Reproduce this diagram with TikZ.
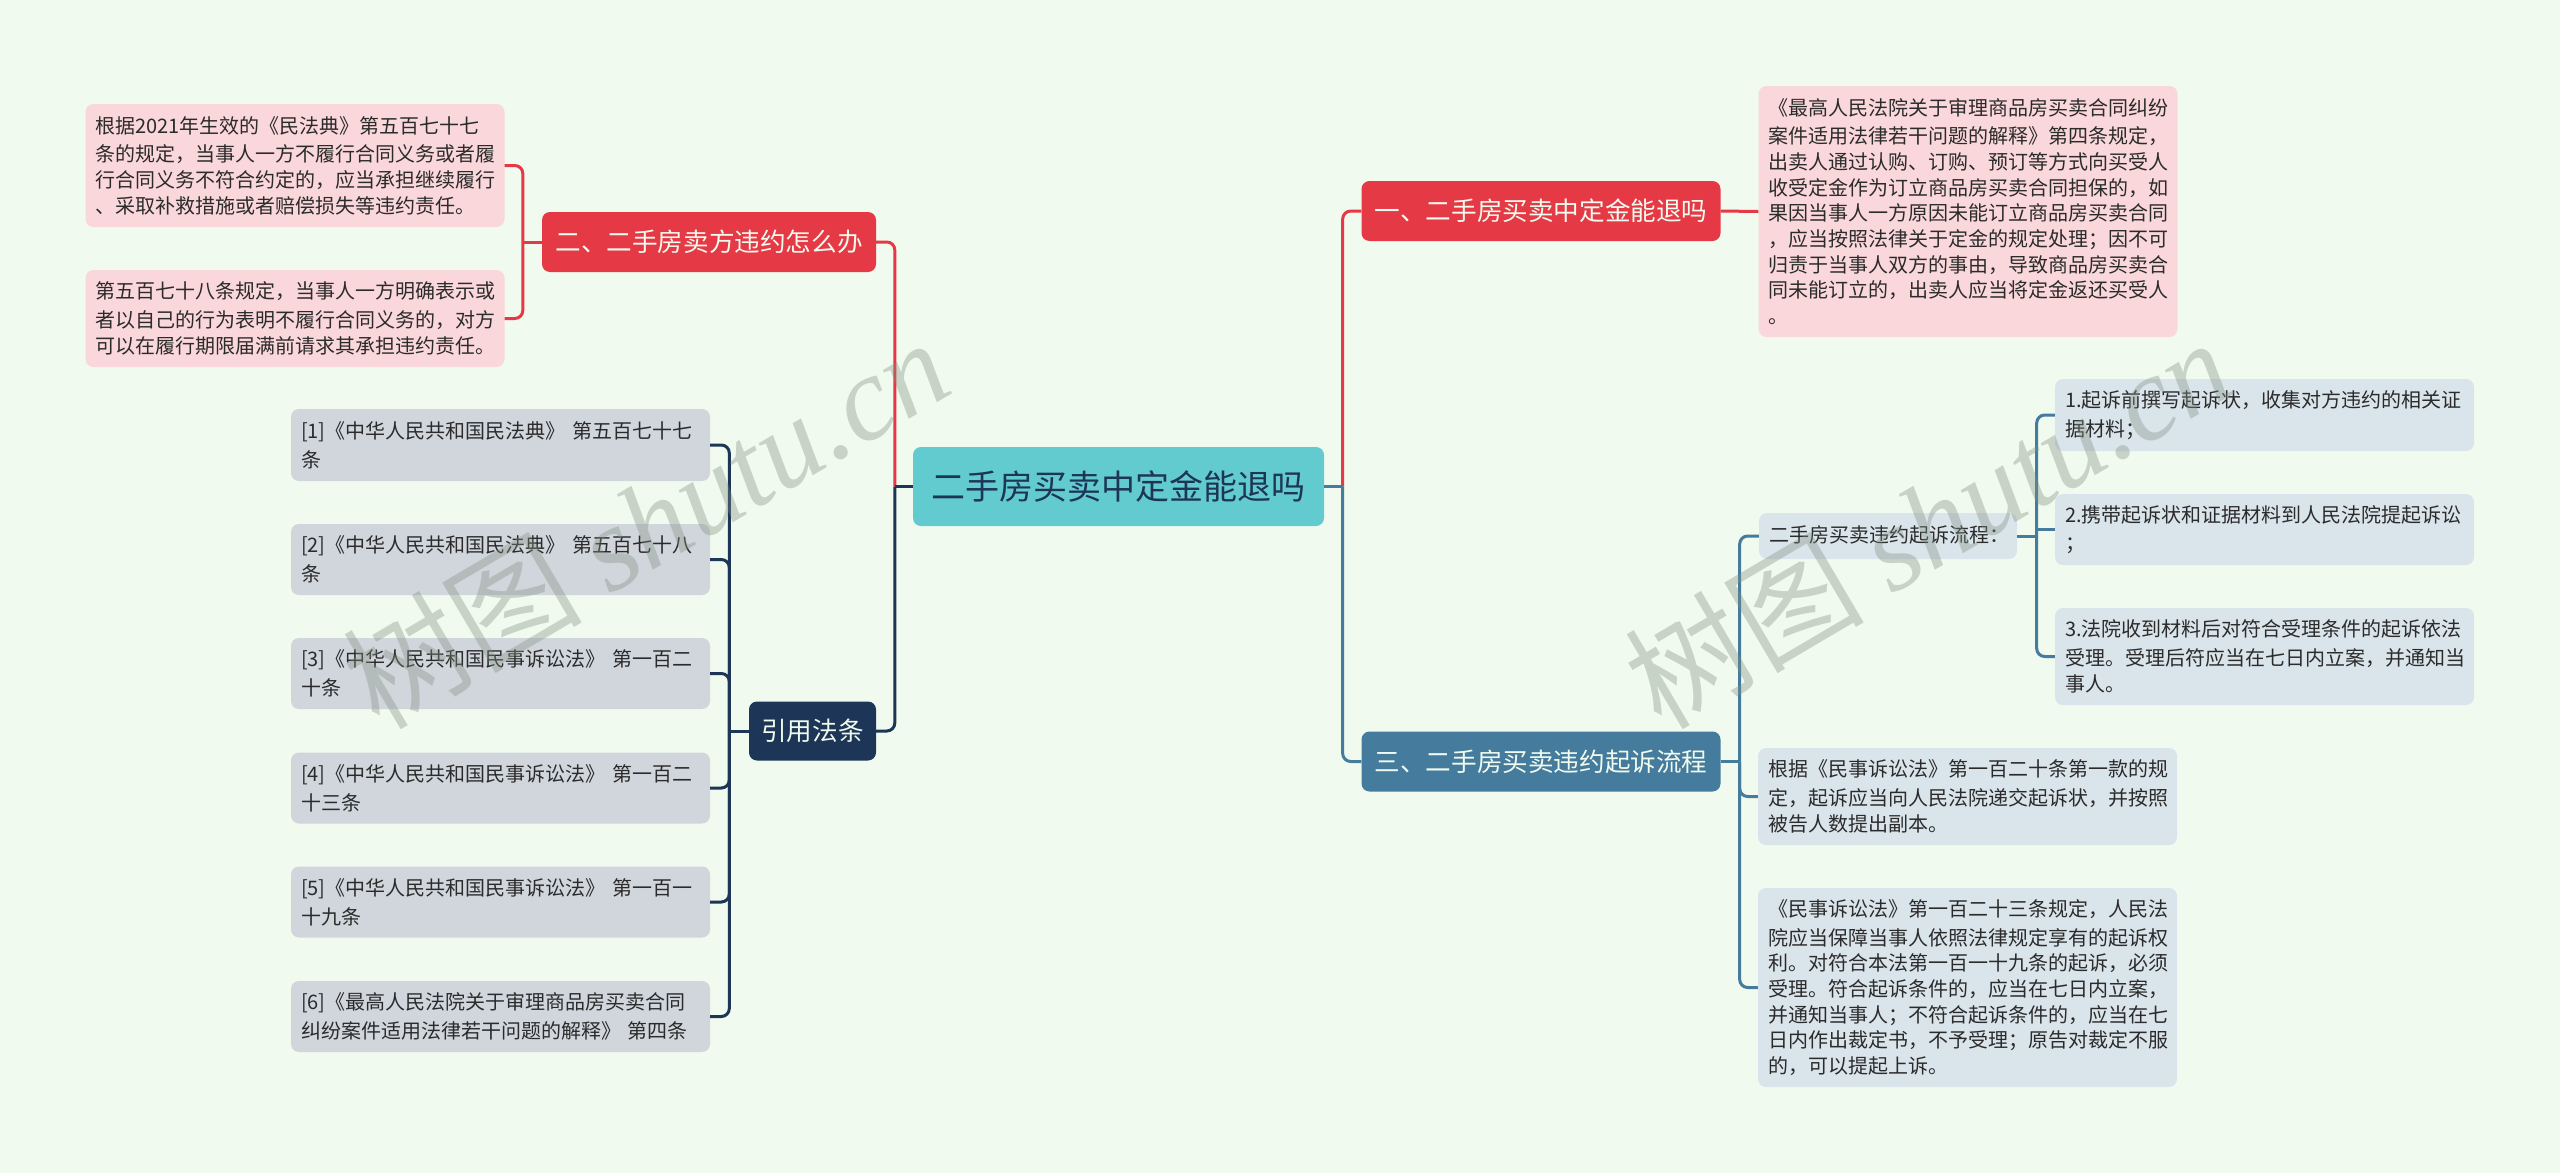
\documentclass[tikz,border=0pt]{standalone}
\usepackage{fontspec}
\setmainfont{Noto Sans CJK SC}
\newfontfamily\wmlatin{Liberation Serif}
\usepackage{tikz}
\usetikzlibrary{positioning, calc}

\definecolor{pagebg}{HTML}{F1FAEE}
\definecolor{rootfill}{HTML}{62CBD0}
\definecolor{redfill}{HTML}{E63946}
\definecolor{bluefill}{HTML}{457B9D}
\definecolor{navyfill}{HTML}{1D3557}
\definecolor{pinkfill}{HTML}{FAD7DA}
\definecolor{palefill}{HTML}{DAE4EB}
\definecolor{grayfill}{HTML}{D1D6DD}
\definecolor{leaftext}{HTML}{2B2B2B}
\definecolor{wmcolor}{HTML}{7F8F80}

\begin{document}
\begin{tikzpicture}[
    x=1pt, y=-1pt,
    box/.style={rectangle, rounded corners=8pt, inner sep=0pt, align=center},
    rootbox/.style={box, fill=rootfill, text=navyfill, minimum width=411pt, minimum height=79pt,
                    font=\fontsize{34}{40}\selectfont},
    topicbox/.style={box, text=pagebg, minimum width=359pt, minimum height=60pt,
                     font=\fontsize{25.6}{32}\selectfont},
    leaf/.style={box, text=leaftext, inner xsep=10pt, text width=399pt, align=left,
                 font=\fontsize{20}{25.7}\selectfont,
                 execute at begin node={\vspace*{3pt}}},
    link/.style={line width=3pt, rounded corners=8pt},
    watermark/.style={text=wmcolor, opacity=0.36, rotate=30.5, font=\fontsize{120}{130}\selectfont}
]

    % Background
    \fill[pagebg] (0, 0) rectangle (2560, 1173);
    \useasboundingbox (0, 0) rectangle (2560, 1173);

    % Root
    \node[rootbox] (root) at (1118.5, 486.5) {二手房买卖中定金能退吗};

    % Topics
    \node[topicbox, fill=redfill] (deposit) at (1541, 211) {一、二手房买卖中定金能退吗};
    \node[topicbox, fill=redfill, minimum width=334pt] (breach) at (709, 242) {二、二手房卖方违约怎么办};
    \node[topicbox, fill=bluefill] (suit) at (1541, 761.5) {三、二手房买卖违约起诉流程};
    \node[topicbox, fill=navyfill, minimum width=127pt, minimum height=59pt] (laws) at (812.5, 731) {引用法条};

    % Breach leaves
    \node[leaf, fill=pinkfill, minimum height=123pt] (breachA) at (295, 165.5)
        {根据2021年生效的《民法典》第五百七十七\\条的规定，当事人一方不履行合同义务或者履\\行合同义务不符合约定的，应当承担继续履行\\、采取补救措施或者赔偿损失等违约责任。};
    \node[leaf, fill=pinkfill, minimum height=97pt] (breachB) at (295, 318.5)
        {第五百七十八条规定，当事人一方明确表示或\\者以自己的行为表明不履行合同义务的，对方\\可以在履行期限届满前请求其承担违约责任。};

    % Deposit leaf
    \node[leaf, fill=pinkfill, minimum height=251pt] (depositA) at (1968, 211.5)
        {《最高人民法院关于审理商品房买卖合同纠纷\\案件适用法律若干问题的解释》第四条规定，\\出卖人通过认购、订购、预订等方式向买受人\\收受定金作为订立商品房买卖合同担保的，如\\果因当事人一方原因未能订立商品房买卖合同\\，应当按照法律关于定金的规定处理；因不可\\归责于当事人双方的事由，导致商品房买卖合\\同未能订立的，出卖人应当将定金返还买受人\\。};

    % Suit leaves
    \node[leaf, fill=palefill, text width=238pt, minimum height=46pt] (flow) at (1888, 536) {二手房买卖违约起诉流程：};
    \node[leaf, fill=palefill, minimum height=72pt] (stepA) at (2264.5, 415)
        {1.起诉前撰写起诉状，收集对方违约的相关证\\据材料；};
    \node[leaf, fill=palefill, minimum height=71pt] (stepB) at (2264.5, 529.5)
        {2.携带起诉状和证据材料到人民法院提起诉讼\\；};
    \node[leaf, fill=palefill, minimum height=97pt] (stepC) at (2264.5, 656.5)
        {3.法院收到材料后对符合受理条件的起诉依法\\受理。受理后符应当在七日内立案，并通知当\\事人。};
    \node[leaf, fill=palefill, minimum height=97pt] (suitA) at (1967.5, 796.5)
        {根据《民事诉讼法》第一百二十条第一款的规\\定，起诉应当向人民法院递交起诉状，并按照\\被告人数提出副本。};
    \node[leaf, fill=palefill, minimum height=199pt] (suitB) at (1967.5, 987.5)
        {《民事诉讼法》第一百二十三条规定，人民法\\院应当保障当事人依照法律规定享有的起诉权\\利。对符合本法第一百一十九条的起诉，必须\\受理。符合起诉条件的，应当在七日内立案，\\并通知当事人；不符合起诉条件的，应当在七\\日内作出裁定书，不予受理；原告对裁定不服\\的，可以提起上诉。};

    % Law leaves
    \node[leaf, fill=grayfill, minimum height=72pt] (lawA) at (500.5, 445)
        {[1]《中华人民共和国民法典》 第五百七十七\\条};
    \node[leaf, fill=grayfill, minimum height=71pt] (lawB) at (500.5, 559.5)
        {[2]《中华人民共和国民法典》 第五百七十八\\条};
    \node[leaf, fill=grayfill, minimum height=71pt] (lawC) at (500.5, 673.5)
        {[3]《中华人民共和国民事诉讼法》 第一百二\\十条};
    \node[leaf, fill=grayfill, minimum height=71pt] (lawD) at (500.5, 788)
        {[4]《中华人民共和国民事诉讼法》 第一百二\\十三条};
    \node[leaf, fill=grayfill, minimum height=71pt] (lawE) at (500.5, 902)
        {[5]《中华人民共和国民事诉讼法》 第一百一\\十九条};
    \node[leaf, fill=grayfill, minimum height=71pt] (lawF) at (500.5, 1016.5)
        {[6]《最高人民法院关于审理商品房买卖合同\\纠纷案件适用法律若干问题的解释》 第四条};

    % Trunks from the root
    \coordinate (trunkL) at ($(root.west) + (-18, 0)$);
    \coordinate (trunkR) at ($(root.east) + (18.5, 0)$);
    \draw[link, redfill] (breach.east) -| (trunkL);
    \draw[link, navyfill] (laws.east) -| (trunkL);
    \draw[link, navyfill] (root.west) -- (trunkL);
    \draw[link, redfill] (deposit.west) -| (trunkR);
    \draw[link, bluefill] (suit.west) -| (trunkR);
    \draw[link, bluefill] (root.east) -- (trunkR);

    % Breach connectors
    \coordinate (busBreach) at ($(breach.west) + (-19, 0)$);
    \draw[link, redfill] (breach.west) -- (busBreach);
    \draw[link, redfill] (busBreach) |- (breachA.east);
    \draw[link, redfill] (busBreach) |- (breachB.east);
    \draw[link, redfill] (deposit.east) -- (depositA.west);

    % Suit connectors
    \coordinate (busSuit) at ($(suit.east) + (19, 0)$);
    \draw[link, bluefill] (suit.east) -- (busSuit);
    \draw[link, bluefill] (busSuit) |- (flow.west);
    \draw[link, bluefill] (busSuit) |- (suitA.west);
    \draw[link, bluefill] (busSuit) |- (suitB.west);
    \coordinate (busFlow) at ($(flow.east) + (19.5, 0)$);
    \draw[link, bluefill] (flow.east) -- (busFlow);
    \draw[link, bluefill] (busFlow) |- (stepA.west);
    \draw[link, bluefill, sharp corners] (busFlow) |- (stepB.west);
    \draw[link, bluefill] (busFlow) |- (stepC.west);

    % Law connectors
    \coordinate (busLaw) at ($(laws.west) + (-19.5, 0)$);
    \draw[link, navyfill] (laws.west) -- (busLaw);
    \foreach \leafname in {lawA, lawB, lawC, lawD, lawE, lawF} {
        \draw[link, navyfill] (busLaw) |- (\leafname.east);
    }

    % Watermarks
    \node[watermark] (markL) at (645, 522) {树图 {\wmlatin\itshape shutu.cn}};
    \node[watermark] (markR) at (1927, 522) {树图 {\wmlatin\itshape shutu.cn}};

\end{tikzpicture}
\end{document}
